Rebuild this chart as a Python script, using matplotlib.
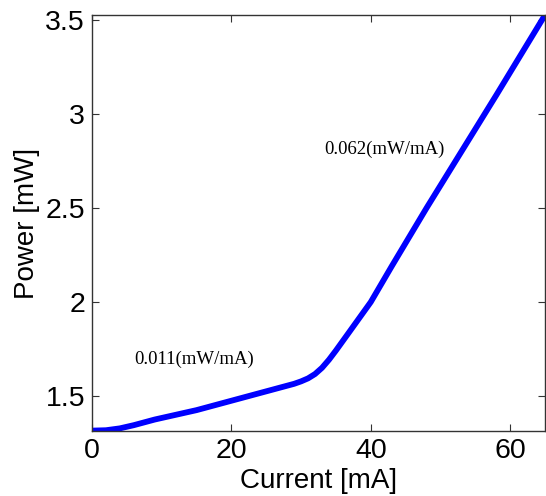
import matplotlib
matplotlib.use("Agg")
import matplotlib.pyplot as plt

current = [0, 2, 4, 6, 9, 12, 15, 20, 25, 29, 30, 31, 32, 33, 34, 35, 37, 40, 43, 48, 53, 58, 65]
power = [1.316, 1.318, 1.328, 1.345, 1.375, 1.400, 1.425, 1.475, 1.525, 1.565,
         1.578, 1.594, 1.617, 1.650, 1.693, 1.742, 1.845, 2.000, 2.190, 2.500,
         2.800, 3.100, 3.527]
xticks = [0, 20, 40, 60]
yticks = [1.5, 2, 2.5, 3, 3.5]
ytick_labels = ["1.5", "2", "2.5", "3", "3.5"]
ann_low = "0.011(mW/mA)"
ann_high = "0.062(mW/mA)"

fig = plt.figure(figsize=(5.46, 4.96), dpi=100)
ax = fig.add_axes([92/546, 1-431/496, (545-92)/546, (431-15)/496])
ax.plot(current, power, color="#0000ff", lw=4.2, solid_capstyle="butt",
        solid_joinstyle="round")
ax.set_xlim(0, 65)
ax.set_ylim(1.314, 3.527)
ax.set_xticks(xticks)
ax.set_xticklabels([str(t) for t in xticks])
ax.set_yticks(yticks)
ax.set_yticklabels(ytick_labels)
ax.tick_params(direction="in", length=5, width=0.8, top=True, right=True,
               labelsize=20.5, colors="#333333", labelcolor="black", pad=5)
for lab in ax.get_xticklabels() + ax.get_yticklabels():
    lab.set_family("Liberation Sans")
for s in ax.spines.values():
    s.set_color("#333333")
    s.set_linewidth(1.0)
ax.set_xlabel("Current [mA]", fontsize=20, family="Liberation Sans", labelpad=3)
ax.set_ylabel("Power [mW]", fontsize=20, family="Liberation Sans", labelpad=4)
ax.text(6.1, 1.697, ann_low, fontsize=13.5, family="Liberation Serif",
        va="center", ha="left")
ax.text(33.3, 2.812, ann_high, fontsize=13.5, family="Liberation Serif",
        va="center", ha="left")
fig.savefig("out.png", dpi=100)
